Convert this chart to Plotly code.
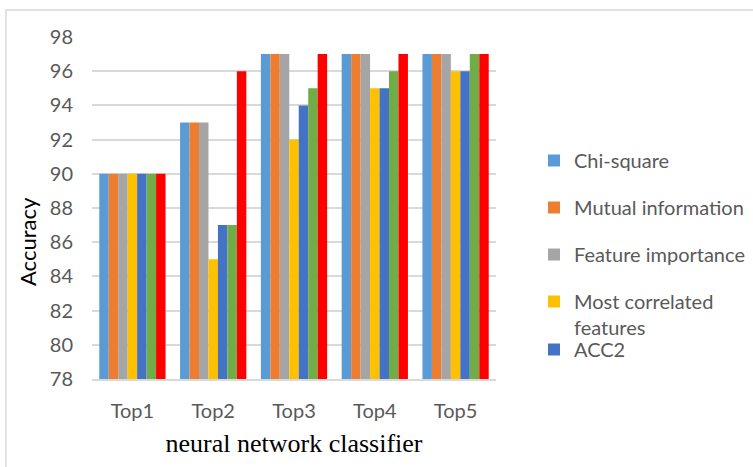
import plotly.graph_objects as go

categories = ["Top1", "Top2", "Top3", "Top4", "Top5"]

chi_square = [90, 93, 97, 97, 97]
mutual_info = [90, 93, 97, 97, 97]
feature_importance = [90, 93, 97, 97, 97]
most_correlated = [90, 85, 92, 95, 96]
acc2 = [90, 87, 94, 95, 96]
method_six = [90, 87, 95, 96, 97]
method_seven = [90, 96, 97, 97, 97]

y_ticks = list(range(78, 99, 2))

W, H = 753, 467
L, R, T, B = 92, 257, 37, 88
pw, ph = W - L - R, H - T - B


def px_x(p):
    return (p - L) / pw


def px_y(p):
    return (H - B - p) / ph


series = [
    ("Chi-square", chi_square, "#5B9BD5", "legend", True),
    ("Mutual information", mutual_info, "#ED7D31", "legend", True),
    ("Feature importance", feature_importance, "#A5A5A5", "legend", True),
    ("Most correlated<br>features", most_correlated, "#FFC000", "legend", True),
    ("ACC2", acc2, "#4472C4", "legend2", True),
    ("Method 6", method_six, "#70AD47", "legend", False),
    ("Method 7", method_seven, "#FF0000", "legend", False),
]

fig = go.Figure()
for i, (name, vals, color, lg, show) in enumerate(series):
    fig.add_trace(go.Bar(
        x=categories, y=vals, name=name,
        marker=dict(color=color, line=dict(width=0)),
        legend=lg, legendgroup=f"g{i}", showlegend=show,
    ))

legend_font = dict(family="Lato, Open Sans, sans-serif", size=20, color="#595959")

fig.update_layout(
    width=W, height=H,
    margin=dict(l=L, r=R, t=T, b=B, autoexpand=False),
    paper_bgcolor="white", plot_bgcolor="white",
    barmode="group", bargap=0.18, bargroupgap=0,
    font=dict(family="Lato, Open Sans, sans-serif", color="#595959"),
    legend=dict(
        x=px_x(534), xanchor="left", y=px_y(141), yanchor="top",
        font=legend_font, tracegroupgap=18, valign="top",
        bgcolor="rgba(0,0,0,0)", borderwidth=0, traceorder="grouped",
    ),
    legend2=dict(
        x=px_x(534), xanchor="left", y=px_y(330), yanchor="top",
        font=legend_font, bgcolor="rgba(0,0,0,0)", borderwidth=0,
    ),
    xaxis=dict(
        showline=True, linecolor="#D9D9D9", linewidth=1.5,
        ticks="", tickfont=dict(size=20, color="#595959"),
        ticklabelstandoff=13,
        title=dict(text="neural network classifier",
                   font=dict(family="Liberation Serif, Times New Roman, serif", size=26, color="black"),
                   standoff=13),
    ),
    yaxis=dict(
        range=[78, 98], tickvals=y_ticks, showgrid=True, gridcolor="#D9D9D9", gridwidth=1.5,
        zeroline=False, showline=False, ticks="",
        tickfont=dict(size=20, color="#595959"), ticklabelstandoff=18,
    ),
    annotations=[dict(
        text="Accuracy", textangle=-90, showarrow=False,
        xref="paper", yref="paper", x=px_x(28), y=px_y(242),
        xanchor="center", yanchor="middle",
        font=dict(family="Lato, Open Sans, sans-serif", size=22, color="black"),
    )],
    shapes=[dict(
        type="rect", xref="paper", yref="paper",
        x0=px_x(6), x1=px_x(765), y0=px_y(480), y1=px_y(10),
        line=dict(color="#D9D9D9", width=1.5), fillcolor="rgba(0,0,0,0)", layer="below",
    )],
)

fig.write_html("out.html")
